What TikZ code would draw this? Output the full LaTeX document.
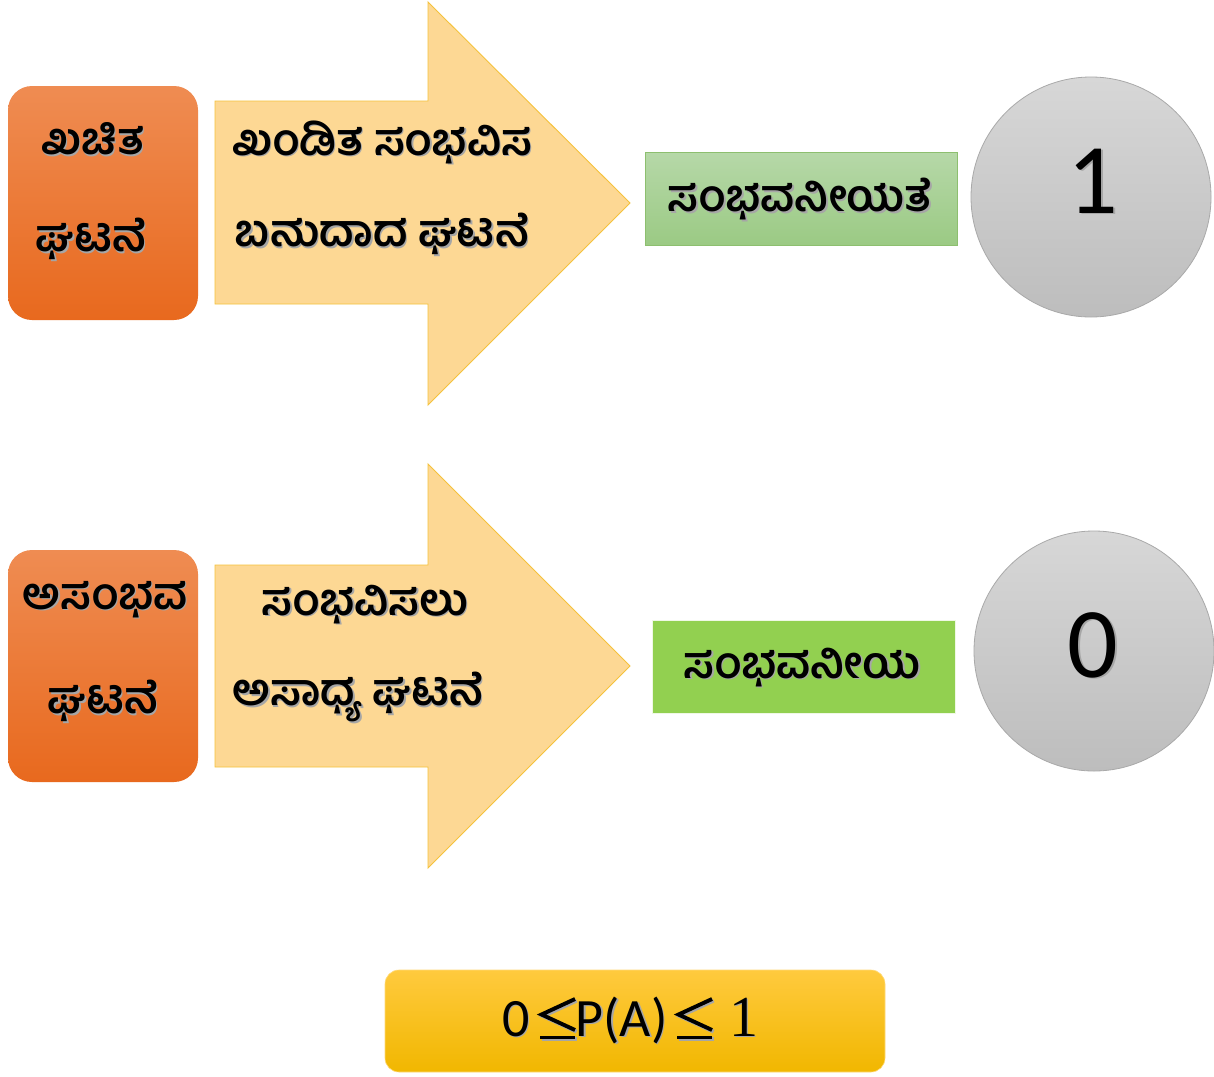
\documentclass[tikz,border=0pt]{standalone}
\usepackage{fontspec}
\setmainfont{Carlito}
\newfontfamily\kn[Script=Kannada]{Hind Mysuru}
\newfontfamily\lsr{Liberation Serif}
\usetikzlibrary{shapes.geometric}
\definecolor{orT}{HTML}{EF8C52}
\definecolor{orB}{HTML}{E8691E}
\definecolor{arF}{HTML}{FDD894}
\definecolor{arE}{HTML}{F5C23C}
\definecolor{grT}{HTML}{B6D8A8}
\definecolor{grB}{HTML}{9BCA84}
\definecolor{grE}{HTML}{8DBF6F}
\definecolor{grS}{HTML}{92D050}
\definecolor{ciT}{HTML}{D7D7D7}
\definecolor{ciB}{HTML}{BDBDBD}
\definecolor{ciE}{HTML}{A9A9A9}
\definecolor{yeT}{HTML}{FFCA3E}
\definecolor{yeB}{HTML}{F1B700}
\newcommand{\shd}[1]{\makebox[0pt][l]{\hspace{1.6pt}\raisebox{-1.6pt}{\textcolor{black!35}{#1}}}#1}
\tikzset{
  obox/.style={rounded corners=24pt, top color=orT, bottom color=orB, draw=none},
  arrowshape/.style={fill=arF, draw=arE, line width=0.9pt, line join=miter},
  gbox/.style={draw=grE, line width=0.8pt, top color=grT, bottom color=grB},
  gbox2/.style={draw=white!85!grS, line width=0.8pt, fill=grS},
  disc/.style={draw=ciE, line width=0.8pt, top color=ciT, bottom color=ciB},
  ybox/.style={rounded corners=14pt, top color=yeT, bottom color=yeB, draw=yeT!70!white, line width=0.6pt},
  kt/.style={font=\kn\bfseries\fontsize{44}{48}\selectfont, inner sep=0pt, anchor=center},
  num/.style={font=\fontsize{100}{100}\selectfont, inner sep=0pt},
  ft/.style={font=\fontsize{54}{60}\selectfont, inner sep=0pt, anchor=base},
  leqline/.style={line width=3.9pt, line join=miter, line cap=butt},
  leqshadow/.style={leqline, draw=black!35, shift={(1.6,1.6)}},
}
\begin{document}
\begin{tikzpicture}[x=1pt,y=-1pt]
\useasboundingbox (0,0) rectangle (1214,1076);
\fill[white] (0,0) rectangle (1214,1076);

% ---------- top row ----------
\path[obox] (8,86) rectangle (198,320);
\node[kt] (c1) at (93,140) {\shd{ಖಚಿತ}};
\node[kt] (c2) at (91,240) {\shd{ಘಟನೆ}};

\path[arrowshape] (215,101) -- (428,101) -- (428,2) -- (630,203) -- (428,405) -- (428,304) -- (215,304) -- cycle;
\node[kt] (a1) at (382,143) {\shd{ಖಂಡಿತ ಸಂಭವಿಸ}};
\node[kt] (a2) at (382,235) {\shd{ಬಹುದಾದ ಘಟನೆ}};

\node[gbox, minimum width=312pt, minimum height=93pt, inner sep=0pt] (p1) at (801,198.5) {};
\node[kt] (p1t) at (800,200) {\shd{ಸಂಭವನೀಯತೆ}};

\node[disc, circle, minimum size=240pt, inner sep=0pt] (one) at (1091,197) {};
\node[num] (onet) at (1093,182) {\shd{1}};

% ---------- bottom row ----------
\path[obox] (8,550) rectangle (198,782);
\node[kt] (i1) at (105,600) {\shd{ಅಸಂಭವ}};
\node[kt] (i2) at (103,702) {\shd{ಘಟನೆ}};

\path[arrowshape] (215,565) -- (428,565) -- (428,464) -- (630,666) -- (428,868) -- (428,767) -- (215,767) -- cycle;
\node[kt] (b1) at (365,605) {\shd{ಸಂಭವಿಸಲು}};
\node[kt] (b2) at (358,698) {\shd{ಅಸಾಧ್ಯ ಘಟನೆ}};

\node[gbox2, minimum width=303pt, minimum height=93pt, inner sep=0pt] (p2) at (803.5,666.5) {};
\node[kt] (p2t) at (802,668) {\shd{ಸಂಭವನೀಯ}};

\node[disc, circle, minimum size=240pt, inner sep=0pt] (zero) at (1094,651) {};
\node[num] (zerot) at (1093,646) {\shd{0}};

% ---------- bottom formula ----------
\path[ybox] (385,970) rectangle (885,1072);
\node[ft] (f0) at (516,1036) {\shd{0}};
\node[ft] (fp) at (621.5,1036) {\shd{P(A)}};
\node[ft, font=\lsr\fontsize{58}{60}\selectfont] (f1) at (743.5,1036) {\shd{1}};
% the two "less than or equal" signs
\foreach \s in {leqshadow, leqline}{
  \draw[\s] (575,999) -- (541.5,1014.5) -- (575,1030);
  \draw[\s] (540,1037.5) -- (575,1037.5);
  \draw[\s] (712,999) -- (678.5,1014.5) -- (712,1030);
  \draw[\s] (677,1037.5) -- (712,1037.5);
}
\end{tikzpicture}
\end{document}
